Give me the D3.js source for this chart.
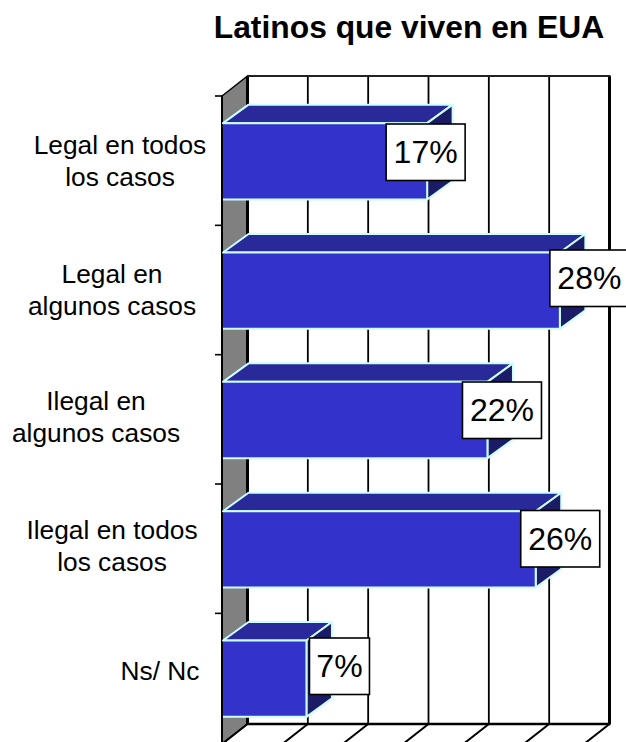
<!doctype html>
<html>
<head>
<meta charset="utf-8">
<script src="https://d3js.org/d3.v7.min.js"></script>
<style>
  html, body { margin: 0; padding: 0; background: #fff; overflow: hidden; }
  svg { display: block; }
  text { font-family: "Liberation Sans", Arial, sans-serif; fill: #000; }
</style>
</head>
<body>
<div id="chart"></div>
<script>
// chart data
var chartTitle = "Latinos que viven en EUA"
var categories = ["Legal en todos los casos", "Legal en algunos casos", "Ilegal en algunos casos", "Ilegal en todos los casos", "Ns/ Nc"]
var values = [17, 28, 22, 26, 7]
var xTicks = [0, 5, 10, 15, 20, 25, 30]
var categoryLines = [["Legal en todos", "los casos"], ["Legal en", "algunos casos"], ["Ilegal en", "algunos casos"], ["Ilegal en todos", "los casos"], ["Ns/ Nc"]]

var width = 626, height = 742

// 3d offset between the front of the plot and its back wall
var depthX = 25.5, depthY = -20, barDepthY = -18.5

var x = d3.scaleLinear().domain([0, 30]).range([222, 584])
var y = d3.scaleBand().domain(categories).range([96, 744]).paddingInner(0.41).paddingOuter(0.21)

var svg = d3.select("#chart").append("svg")
  .attr("width", width)
  .attr("height", height)

var poly = function(pts) { return "M" + pts.join("L") + "Z" }

svg.append("text")
  .attr("x", 409).attr("y", 38)
  .attr("text-anchor", "middle")
  .style("font-size", "31.8px")
  .style("font-weight", "bold")
  .text(chartTitle)

var top0 = y.range()[0], bottom0 = y.range()[1]

// left wall
svg.append("path")
  .attr("d", poly([[x(0), top0], [x(0) + depthX, top0 + depthY], [x(0) + depthX, bottom0 + depthY], [x(0), bottom0]]))
  .attr("fill", "#808080")
  .attr("stroke", "#000")
  .attr("stroke-width", 1.5)

// grid on the back wall, and its feet on the floor
var grid = svg.append("g")
xTicks.forEach(function(t) {
  var first = t === 0, last = t === 30
  grid.append("line")
    .attr("x1", x(t) + depthX).attr("x2", x(t) + depthX)
    .attr("y1", top0 + depthY).attr("y2", bottom0 + depthY)
    .attr("stroke", "#000")
    .attr("stroke-width", first || last ? 3 : 1.8)
  grid.append("line")
    .attr("x1", x(t) + depthX).attr("x2", x(t))
    .attr("y1", bottom0 + depthY).attr("y2", bottom0)
    .attr("stroke", "#000")
    .attr("stroke-width", 2)
})
grid.append("line")
  .attr("x1", x(0) + depthX).attr("x2", x(30) + depthX + 1)
  .attr("y1", top0 + depthY).attr("y2", top0 + depthY)
  .attr("stroke", "#222").attr("stroke-width", 1.8)
grid.append("line")
  .attr("x1", x(0) + depthX).attr("x2", x(30) + depthX + 1)
  .attr("y1", bottom0 + depthY).attr("y2", bottom0 + depthY)
  .attr("stroke", "#000").attr("stroke-width", 2.5)

// front edge of the left wall and category ticks
svg.append("line")
  .attr("x1", x(0)).attr("x2", x(0))
  .attr("y1", top0).attr("y2", bottom0)
  .attr("stroke", "#000").attr("stroke-width", 2)
categories.forEach(function(c, i) {
  var ty = top0 + i * y.step()
  svg.append("line")
    .attr("x1", x(0) - 7).attr("x2", x(0))
    .attr("y1", ty).attr("y2", ty)
    .attr("stroke", "#000").attr("stroke-width", 1.6)
})

// bars
var bars = svg.selectAll("g.bar")
  .data(categories)
  .enter().append("g")
  .attr("class", "bar")
  .attr("fill", "none")
  .attr("stroke", "#ccffff")
  .attr("stroke-width", 2)
  .attr("stroke-linejoin", "round")

bars.append("path") // top
  .attr("fill", "#292999")
  .attr("d", function(c, i) {
    var x0 = x(0) + 1, x1 = x(values[i]), t = y(c)
    return poly([[x0, t], [x0 + depthX, t + barDepthY], [x1 + depthX, t + barDepthY], [x1, t]])
  })
bars.append("path") // side
  .attr("fill", "#1c1c66")
  .attr("d", function(c, i) {
    var x1 = x(values[i]), t = y(c), b = t + y.bandwidth()
    return poly([[x1, t], [x1 + depthX, t + barDepthY], [x1 + depthX, b + barDepthY], [x1, b]])
  })
bars.append("path") // front, open on the axis side
  .attr("fill", "#3333cc")
  .attr("d", function(c, i) {
    var x0 = x(0) + 1, x1 = x(values[i]), t = y(c), b = t + y.bandwidth()
    return "M" + [[x0, t], [x1, t], [x1, b], [x0, b]].join("L")
  })

// category labels, placed by hand like the original text boxes
var labelCenter = [120, 112, 96, 112, 160]
var labelFirstLine = [154, 282.5, 410, 538.5, 679.5]
categories.forEach(function(c, i) {
  categoryLines[i].forEach(function(line, j) {
    svg.append("text")
      .attr("x", labelCenter[i])
      .attr("y", labelFirstLine[i] + j * 32)
      .attr("text-anchor", "middle")
      .style("font-size", "26.3px")
      .text(line)
  })
})

// value boxes, each offset from its bar end by hand
var boxShift = [-41, -10, -25, -15, 3]
var boxTop = [124, 250, 382, 510.5, 638]
var boxWidth = [79, 79, 79, 79, 60]
values.forEach(function(v, i) {
  var bx = x(v) + boxShift[i]
  svg.append("rect")
    .attr("x", bx).attr("y", boxTop[i])
    .attr("width", boxWidth[i]).attr("height", 56.5)
    .attr("fill", "#fff")
    .attr("stroke", "#000")
    .attr("stroke-width", 1.6)
  svg.append("text")
    .attr("x", bx + boxWidth[i] / 2)
    .attr("y", boxTop[i] + 39)
    .attr("text-anchor", "middle")
    .style("font-size", "32px")
    .text(v + "%")
})
</script>
</body>
</html>
